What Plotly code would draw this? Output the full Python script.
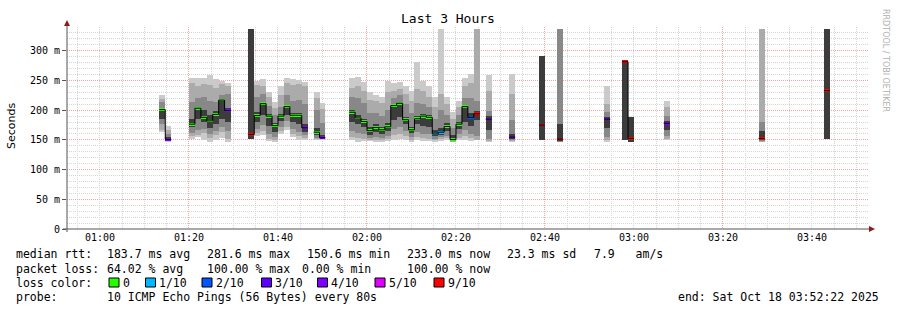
import plotly.graph_objects as go
from datetime import datetime, timedelta

# ---------------- data ----------------
# sample slots (80 s steps counted from the first slot time)
first_slot = "2025-10-18 00:53:21"
step_seconds = 80
slot = [15, 16, 20, 21, 22, 23, 24, 25, 26, 30, 31, 32, 33, 34, 35, 36, 37, 38, 39,
        41, 42, 47, 48, 49, 50, 51, 52, 53, 54, 55, 56, 57, 58, 59, 60, 61, 62, 63,
        64, 65, 66, 67, 68, 70, 74, 79, 82, 90, 93, 94, 100, 116, 127]
# median rtt (ms) and lost pings out of 10
med = [201, 150.8, 176.5, 203.3, 188, 182, 193, 217, 199.4, 159, 191, 211, 190, 174, 190, 206, 191.5, 191.5, 170.4,
       163, 153.6, 196.6, 187, 181, 165.5, 171, 167, 172, 207.8, 211.7, 184, 167, 185.5, 190, 188, 160, 163, 172.6,
       150.6, 176.5, 206, 188, 194, 185, 154.7, 175, 151.4, 185, 281.6, 152.5, 178, 152.5, 233]
loss = [0, 4, 0, 0, 0, 0, 0, 0, 4, 9, 0, 0, 0, 0, 0, 0, 0, 0, 4,
        0, 4, 0, 0, 0, 0, 0, 0, 0, 0, 0, 0, 0, 0, 0, 0, 1, 1, 0,
        0, 0, 0, 2, 9, 4, 4, 9, 9, 4, 9, 9, 4, 9, 9]
# smoke bands (ms), outermost (1) to innermost (4)
lo1 = [164, 146, 152, 155, 149, 146, 149, 154, 146, None, 157, 158, 148, 147, 160, 166, 155, 150, 149,
       149, 150, 149, 147, 148, 148, 147, 147, 148, 150, 152, 150, 147, 150, 148, 148, 146, 148, 150,
       146, 150, 150, 148, None, 146, 146, None, None, 146, None, None, 149, None, None]
hi1 = [225, 173, 255, 254, 255, 260, 252, 250, 246, None, 250, 253, 231, 213, 240, 255, 253, 251, 248,
       231, 212, 254, 256, 247, 230, 225, 222, 249, 245, 247, 241, 232, 281, 250, 241, 222, 336, 222,
       197, 216, 255, 261, None, 260, 261, None, None, 240, None, None, 216, None, None]
lo2 = [167, 148, 156, 158, 161, 153, 158, 163, 152, None, 162, 165, 152, 150, 165, 172, 160, 156, 153,
       151, 151, 155, 153, 152, 150, 150, 150, 152, 158, 160, 156, 150, 155, 153, 152, 149, 151, 153,
       147, 154, 156, 153, 150, 148, 148, None, None, 150, None, None, 152, 146, None]
hi2 = [219, 166, 245, 241, 244, 243, 238, 244, 241, None, 243, 240, 222, 204, 226, 245, 242, 244, 240,
       221, 202, 238, 240, 232, 218, 215, 212, 230, 232, 236, 228, 215, 235, 232, 222, 205, 228, 210,
       185, 205, 240, 245, 337, 233, 227, None, None, 211, None, None, 205, 337, None]
lo3 = [176, 150, 161, 166, 169, 160, 165, 172, 165, None, 168, 175, 160, 155, 172, 182, 168, 163, 158,
       154, 152, 165, 162, 160, 153, 155, 154, 157, 168, 172, 165, 155, 163, 160, 160, 152, 155, 157,
       148, 160, 166, 160, 156, 152, 150, None, 146, 155, None, None, 156, 148, None]
hi3 = [213, 160, 213, 220, 222, 216, 213, 225, 228, None, 222, 228, 207, 192, 205, 225, 215, 218, 210,
       200, 178, 222, 220, 212, 195, 195, 190, 200, 220, 225, 210, 195, 212, 210, 205, 185, 200, 192,
       170, 192, 220, 220, 216, 199, 183, None, 337, 197, None, None, 190, 180, None]
lo4 = [186, 150, 171, 185, 180, 170, 176, 185, 180, 152, 180, 192, 174, 163, 182, 192, 180, 176, 163,
       158, 152, 180, 176, 172, 159, 163, 160, 165, 184, 188, 176, 161, 176, 174, 172, 156, 159, 165,
       149, 169, 180, 174, 184, 166, 151, 150, 148, 170, 150, 146, 166, 150, 152]
hi4 = [203, 155, 185, 204, 200, 192, 198, 219, 203, 337, 197, 213, 194, 178, 194, 208, 196, 196, 176,
       170, 158, 200, 192, 186, 172, 176, 172, 178, 210, 214, 188, 172, 190, 193, 192, 166, 170, 178,
       158, 180, 208, 196, 198, 190, 160, 292, 176, 188, 281, 189, 182, 165, 337]

loss_colors = {0: "#26ff00", 1: "#00b8ff", 2: "#0059ff", 3: "#5e00ff",
               4: "#7e00ff", 5: "#dd00ff", 9: "#ff0000"}
loss_labels = ["0", "1/10", "2/10", "3/10", "4/10", "5/10", "9/10"]
loss_keys = [0, 1, 2, 3, 4, 5, 9]
smoke_colors = ["#cacaca", "#ababab", "#888888", "#3c3c3c"]

y_ticks = [0, 50, 100, 150, 200, 250, 300]
y_tick_text = ["0", "50 m", "100 m", "150 m", "200 m", "250 m", "300 m"]

x_start = "2025-10-18 00:52:36"
x_end = "2025-10-18 03:52:36"

stats_rtt = ["median rtt:", "183.7 ms avg", "281.6 ms max", "150.6 ms min",
             "233.0 ms now", "23.3 ms sd", "7.9   am/s"]
stats_loss = ["packet loss:", "64.02 % avg", "100.00 % max", "0.00 % min", "100.00 % now"]
probe_text = "10 ICMP Echo Pings (56 Bytes) every 80s"
end_text = "end: Sat Oct 18 03:52:22 2025"

# ---------------- figure ----------------
t0 = datetime.strptime(first_slot, "%Y-%m-%d %H:%M:%S")
step = timedelta(seconds=step_seconds)
left = [t0 + k * step for k in slot]
center = [t + step / 2 for t in left]
bar_w = step_seconds * 1000

fig = go.Figure()
for lo, hi, col in zip([lo1, lo2, lo3, lo4], [hi1, hi2, hi3, hi4], smoke_colors):
    xs, bs, hs = [], [], []
    for c, a, b in zip(center, lo, hi):
        if a is None:
            continue
        xs.append(c); bs.append(a); hs.append(b - a)
    fig.add_trace(go.Bar(x=xs, y=hs, base=bs, width=bar_w,
                         marker=dict(color=col, line=dict(width=0)),
                         hoverinfo="skip", showlegend=False))

# black step line of the median
lx, ly = [], []
for i, k in enumerate(slot):
    if i > 0 and k != slot[i - 1] + 1:
        lx.append(left[i - 1] + step); ly.append(med[i - 1])
        lx.append(None); ly.append(None)
    lx.append(left[i]); ly.append(med[i])
lx.append(left[-1] + step); ly.append(med[-1])
fig.add_trace(go.Scatter(x=lx, y=ly, mode="lines", line=dict(color="#000000", width=1, shape="hv"),
                         hoverinfo="skip", showlegend=False, connectgaps=False))

# coloured median marks
fig.add_trace(go.Bar(x=center, y=[4.6] * len(med), base=[m - 2.3 for m in med], width=bar_w,
                     marker=dict(color=[loss_colors[l] for l in loss], line=dict(width=0)),
                     hoverinfo="skip", showlegend=False))

# overlay axis for the 40-minute red grid
fig.add_trace(go.Scatter(x=[x_start], y=[0], xaxis="x2", mode="markers",
                         marker=dict(opacity=0), hoverinfo="skip", showlegend=False))

L, R, T, B = 67, 868, 27, 229
W, H = 897, 310


def px(x):
    return (x - L) / (R - L)


def py(y):
    return (B - y) / (B - T)


mono = "DejaVu Sans Mono"
grid_minor = "#d6d6d6"
grid_major = "#f3a3a3"
dash = "1px,1px"

fig.update_layout(
    width=W, height=H, margin=dict(l=L, r=W - R, t=T, b=H - B),
    paper_bgcolor="white", plot_bgcolor="white", barmode="overlay", bargap=0,
    showlegend=False,
    xaxis=dict(type="date", range=[x_start, x_end], tickformat="%H:%M",
               tick0="2025-10-18 01:00:00", dtick=20 * 60 * 1000,
               showgrid=True, gridcolor=grid_minor, griddash=dash, gridwidth=1,
               minor=dict(dtick=5 * 60 * 1000, showgrid=True, gridcolor=grid_minor, griddash=dash),
               ticks="", ticklabelstandoff=1,
               tickfont=dict(family=mono, size=10, color="#000000"),
               showline=False, zeroline=False, fixedrange=True),
    xaxis2=dict(type="date", range=[x_start, x_end], overlaying="x",
                tick0="2025-10-18 01:20:00", dtick=40 * 60 * 1000,
                showgrid=True, gridcolor=grid_major, griddash=dash, gridwidth=1,
                showticklabels=False, ticks="", showline=False, zeroline=False),
    yaxis=dict(range=[0, (B - T) / 0.594], tickvals=y_ticks, ticktext=y_tick_text,
               showgrid=True, gridcolor=grid_major, griddash=dash, gridwidth=1,
               minor=dict(dtick=10, showgrid=True, gridcolor=grid_minor, griddash=dash),
               ticks="outside", ticklen=4, tickcolor="#555555",
               tickfont=dict(family=mono, size=10, color="#000000"),
               showline=False, zeroline=False, fixedrange=True),
)

shapes = []
axis_col = "#555555"
arrow_col = "#8e1b1b"
shapes.append(dict(type="line", xref="paper", yref="paper", x0=px(63), x1=px(871), y0=0, y1=0,
                   line=dict(color=axis_col, width=1)))
shapes.append(dict(type="line", xref="paper", yref="paper", x0=0, x1=0, y0=py(232), y1=py(24),
                   line=dict(color=axis_col, width=1)))
shapes.append(dict(type="path", xref="paper", yref="paper", fillcolor=arrow_col, line=dict(width=0),
                   path=f"M {px(64)} {py(26)} L {px(70)} {py(26)} L {px(67)} {py(20)} Z"))
shapes.append(dict(type="path", xref="paper", yref="paper", fillcolor=arrow_col, line=dict(width=0),
                   path=f"M {px(869)} {py(226)} L {px(869)} {py(232)} L {px(875)} {py(229)} Z"))

ann = []


def text(x, y, s, size=11.5, family=mono, color="#000000", xanchor="left", angle=0):
    ann.append(dict(xref="paper", yref="paper", x=px(x), y=py(y), text=s, showarrow=False,
                    xanchor=xanchor, yanchor="middle", textangle=angle, borderpad=0,
                    font=dict(family=family, size=size, color=color)))


text(448, 19, "Last 3 Hours", size=13, xanchor="center")
text(11, 126, "Seconds", size=11, family="DejaVu Sans", xanchor="center", angle=-90)
text(886, 60, "RRDTOOL / TOBI OETIKER", size=8, family="DejaVu Sans", color="#b0b0b0",
     xanchor="center", angle=90)

rtt_x = [15, 105.5, 205.5, 305.5, 405.5, 506, 592.5]
for x, s in zip(rtt_x, stats_rtt):
    text(x, 254.5, s)
loss_x = [15, 105.5, 205.5, 300.5, 405.5]
for x, s in zip(loss_x, stats_loss):
    text(x, 268.5, s)
text(15, 282.5, "loss color:")
box_x = [109, 145.5, 202, 261.5, 317.5, 375, 434]
for x, k, lab in zip(box_x, loss_keys, loss_labels):
    shapes.append(dict(type="rect", xref="paper", yref="paper", x0=px(x), x1=px(x + 10),
                       y0=py(287), y1=py(278), fillcolor=loss_colors[k],
                       line=dict(color="#000000", width=1)))
    text(x + 12.5, 282.5, lab)
text(15, 296.5, "probe:")
text(105.5, 296.5, probe_text)
text(880.5, 296.5, end_text, xanchor="right")

fig.update_layout(shapes=shapes, annotations=ann)
fig.write_html("out.html")
